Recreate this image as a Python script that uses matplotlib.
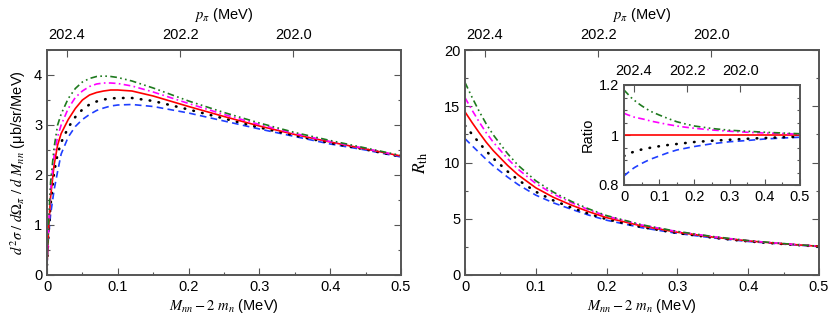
import matplotlib
matplotlib.use("Agg")
import matplotlib.pyplot as plt
from matplotlib.ticker import MultipleLocator, FuncFormatter

# ---------------- data ----------------
x_sig = [0.0, 0.002, 0.005, 0.01, 0.015, 0.02, 0.03, 0.04, 0.05, 0.06, 0.07, 0.08,
         0.09, 0.1, 0.12, 0.15, 0.2, 0.25, 0.3, 0.35, 0.4, 0.45, 0.5]
sig_blue = [0.2, 0.75, 1.2, 1.7, 2.07, 2.42, 2.76, 2.97, 3.11, 3.21, 3.29, 3.34,
            3.38, 3.40, 3.41, 3.37, 3.24, 3.08, 2.92, 2.77, 2.62, 2.50, 2.36]
sig_black = [0.2, 0.8, 1.4, 2.05, 2.42, 2.65, 2.95, 3.16, 3.31, 3.41, 3.47, 3.51,
             3.53, 3.54, 3.54, 3.48, 3.31, 3.13, 2.95, 2.79, 2.64, 2.51, 2.37]
sig_red = [0.2, 0.85, 1.55, 2.2, 2.6, 2.83, 3.11, 3.33, 3.50, 3.60, 3.65, 3.68,
           3.70, 3.70, 3.68, 3.58, 3.37, 3.17, 2.98, 2.81, 2.66, 2.52, 2.38]
sig_magenta = [0.2, 0.9, 1.7, 2.38, 2.77, 3.0, 3.33, 3.55, 3.68, 3.77, 3.82, 3.84,
               3.84, 3.83, 3.78, 3.66, 3.43, 3.21, 3.01, 2.83, 2.67, 2.53, 2.38]
sig_green = [0.2, 0.95, 1.85, 2.55, 3.0, 3.22, 3.53, 3.73, 3.86, 3.93, 3.97, 3.98,
             3.97, 3.95, 3.88, 3.74, 3.48, 3.25, 3.04, 2.85, 2.69, 2.54, 2.39]

x_r = [0.0, 0.01, 0.02, 0.03, 0.04, 0.05, 0.06, 0.075, 0.1, 0.125, 0.15, 0.175,
       0.2, 0.25, 0.3, 0.35, 0.4, 0.45, 0.5]
r_blue = [12.12, 11.49, 10.88, 10.27, 9.70, 9.21, 8.71, 8.04, 7.10, 6.41, 5.85,
          5.32, 4.87, 4.20, 3.70, 3.30, 2.98, 2.74, 2.53]
r_black = [13.28, 12.51, 11.75, 11.02, 10.36, 9.80, 9.21, 8.45, 7.40, 6.62, 6.00,
           5.44, 4.96, 4.25, 3.73, 3.32, 2.99, 2.75, 2.53]
r_red = [14.5, 13.55, 12.65, 11.8, 11.05, 10.4, 9.75, 8.9, 7.75, 6.9, 6.22,
         5.62, 5.1, 4.35, 3.8, 3.37, 3.03, 2.77, 2.55]
r_magenta = [15.76, 14.65, 13.61, 12.64, 11.80, 11.08, 10.35, 9.40, 8.13, 7.19,
             6.44, 5.79, 5.24, 4.44, 3.86, 3.41, 3.05, 2.79, 2.56]
r_green = [17.11, 15.79, 14.55, 13.43, 12.45, 11.62, 10.80, 9.75, 8.37, 7.36,
           6.55, 5.87, 5.28, 4.46, 3.87, 3.42, 3.06, 2.79, 2.56]

ratio_blue = [0.836, 0.848, 0.86, 0.87, 0.878, 0.886, 0.893, 0.903, 0.916, 0.929,
              0.94, 0.947, 0.954, 0.965, 0.973, 0.978, 0.984, 0.988, 0.991]
ratio_black = [0.916, 0.923, 0.929, 0.934, 0.938, 0.942, 0.945, 0.949, 0.955, 0.96,
               0.964, 0.968, 0.972, 0.977, 0.981, 0.985, 0.988, 0.991, 0.993]
ratio_red = [1.0] * 19
ratio_magenta = [1.087, 1.081, 1.076, 1.071, 1.068, 1.065, 1.062, 1.056, 1.049,
                 1.042, 1.036, 1.031, 1.027, 1.02, 1.015, 1.011, 1.008, 1.006, 1.003]
ratio_green = [1.18, 1.165, 1.15, 1.138, 1.127, 1.117, 1.108, 1.095, 1.08, 1.066,
               1.053, 1.044, 1.036, 1.026, 1.019, 1.015, 1.011, 1.008, 1.005]

ppi_ticks = [202.4, 202.2, 202.0]
ppi_labels = ["202.4", "202.2", "202.0"]

# ---------------- style ----------------
plt.rcParams['font.family'] = ['Liberation Sans', 'DejaVu Sans']
plt.rcParams['mathtext.fontset'] = 'stix'
plt.rcParams['font.size'] = 10.5

FRAME = '#555555'
styles = [
    dict(color='#1f3fff', ls=(0, (4, 2.6)), lw=1.2),                       # blue dashed
    dict(color='black', ls=(0, (0.2, 3.2)), lw=1.9, dash_capstyle='round'),  # dotted
    dict(color='#ff0000', ls='-', lw=1.2),                                   # red solid
    dict(color='#ff00ff', ls=(0, (4, 2, 1, 2)), lw=1.2),                     # magenta dash-dot
    dict(color='#1e7a1e', ls=(0, (4, 2, 1, 2, 1, 2)), lw=1.2),               # green dash-dot-dot
]

fig = plt.figure(figsize=(8.3, 3.24), dpi=100)

fmt = FuncFormatter(lambda v, p: '%g' % round(v, 6))


def style_axes(ax, xmaj, xmin, ymaj, ymin, size=10.5):
    for s in ax.spines.values():
        s.set_color(FRAME)
        s.set_linewidth(1.4)
    ax.xaxis.set_major_locator(MultipleLocator(xmaj))
    ax.xaxis.set_minor_locator(MultipleLocator(xmin))
    ax.yaxis.set_major_locator(MultipleLocator(ymaj))
    ax.yaxis.set_minor_locator(MultipleLocator(ymin))
    ax.tick_params(which='both', direction='in', right=True, top=False,
                   color=FRAME, labelsize=size, width=0.8)
    ax.tick_params(which='major', length=5)
    ax.tick_params(which='minor', length=2.5)
    ax.xaxis.set_major_formatter(fmt)
    ax.yaxis.set_major_formatter(fmt)


def add_top(ax, x0, scale, size=10.5, label=True, pad=6):
    # x = x0 + (202.4 - p) * scale
    fwd = lambda x: 202.4 - (x - x0) / scale
    inv = lambda p: x0 + (202.4 - p) * scale
    sec = ax.secondary_xaxis('top', functions=(fwd, inv))
    sec.set_xticks(ppi_ticks)
    sec.set_xticklabels(ppi_labels)
    sec.xaxis.set_minor_locator(plt.NullLocator())
    sec.tick_params(direction='in', length=5, color=FRAME, labelsize=size,
                    pad=pad, width=0.8)
    sec.spines['top'].set_color(FRAME)
    sec.spines['top'].set_linewidth(1.4)
    if label:
        sec.set_xlabel(r'$p_\pi$ (MeV)', fontsize=10.5, labelpad=6)
    return sec


xlabel = r'$M_{nn} - 2\ m_n$ (MeV)'

# ---------- left panel ----------
ax1 = fig.add_axes([47 / 830, 1 - 275 / 324, 354 / 830, 225 / 324])
for y, st in zip([sig_blue, sig_black, sig_red, sig_magenta, sig_green], styles):
    ax1.plot(x_sig, y, **st)
ax1.set_xlim(0, 0.5)
ax1.set_ylim(0, 4.5)
style_axes(ax1, 0.1, 0.05, 1, 0.5)
ax1.set_xlabel(xlabel, labelpad=2)
ax1.set_ylabel(r'$d^2\sigma\ /\ d\Omega_\pi\ /\ d\ M_{nn}$ (μb/sr/MeV)', labelpad=4)
add_top(ax1, 0.028, 0.8)

# ---------- right panel ----------
ax2 = fig.add_axes([465 / 830, 1 - 275 / 324, 354 / 830, 225 / 324])
for y, st in zip([r_blue, r_black, r_red, r_magenta, r_green], styles):
    ax2.plot(x_r, y, **st)
ax2.set_xlim(0, 0.5)
ax2.set_ylim(0, 20)
style_axes(ax2, 0.1, 0.05, 5, 2.5)
ax2.set_xlabel(xlabel, labelpad=2)
ax2.set_ylabel(r'$R_{\rm th}$', fontsize=12.5, labelpad=10)
add_top(ax2, 0.028, 0.8)

# ---------- inset ----------
ax3 = fig.add_axes([624 / 830, 1 - 185 / 324, 176 / 830, 100 / 324])
for y, st in zip([ratio_blue, ratio_black, ratio_red, ratio_magenta, ratio_green], styles):
    ax3.plot(x_r, y, **st)
ax3.set_xlim(0, 0.5)
ax3.set_ylim(0.8, 1.2)
style_axes(ax3, 0.1, 0.05, 0.2, 0.05)
ax3.tick_params(which='major', length=4)
ax3.tick_params(which='minor', length=2)
ax3.set_ylabel('Ratio', labelpad=3)
add_top(ax3, 0.0284, 0.754, label=False, pad=5)

fig.savefig('out.png', dpi=100)
